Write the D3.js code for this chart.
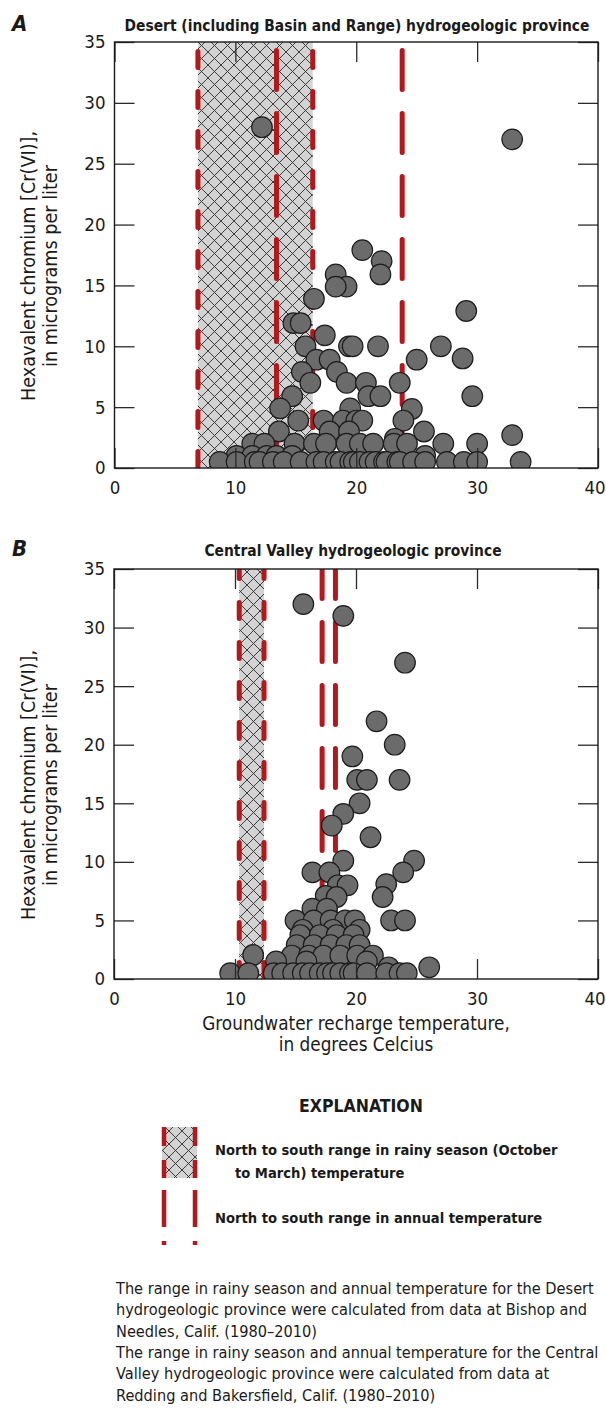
<!DOCTYPE html>
<html>
<head>
<meta charset="utf-8">
<script src="https://cdn.jsdelivr.net/npm/d3@7"></script>
<style>
body { margin: 0; background: #fff; }
svg { display: block; }
text { font-family: 'Liberation Sans Narrow', 'Arial Narrow', 'DejaVu Sans Condensed', 'Roboto Condensed', sans-serif; font-stretch: condensed; fill: #1a1a1a; }
</style>
</head>
<body>
<div id="chart"></div>
<script>
var xTicks = [0, 10, 20, 30, 40];
var yTicks = [0, 5, 10, 15, 20, 25, 30, 35];

// [recharge temperature (deg C), Cr(VI) (ug/L)]
var desertPoints = [
	[12.2, 28], [32.9, 27], [20.5, 17.9], [22.1, 17], [22.0, 15.9], [18.3, 15.9], [19.2, 14.9], [18.3, 14.9],
	[16.5, 13.9], [29.1, 12.9], [14.8, 11.9], [15.4, 11.9], [17.4, 10.9], [15.8, 10.0], [19.4, 10.0], [19.7, 10.0],
	[21.8, 10.0], [27.0, 10.0], [28.8, 9.0], [25.0, 8.9], [16.7, 8.9], [17.8, 8.9], [15.5, 7.9], [18.4, 7.9],
	[16.2, 7.0], [19.2, 7.0], [20.8, 7.0], [23.6, 7.0], [14.7, 5.9], [21.0, 5.9], [22.0, 5.9], [29.6, 5.9],
	[13.7, 4.9], [19.5, 4.9], [24.6, 4.85], [15.2, 3.9], [17.3, 3.9], [18.9, 3.9], [20.0, 3.9], [20.5, 3.9],
	[23.9, 3.9], [13.6, 3.0], [17.8, 3.0], [19.4, 3.0], [25.6, 3.0], [32.9, 2.7], [23.2, 2.4], [11.4, 2.0],
	[12.4, 2.0], [14.9, 2.0], [16.5, 2.0], [17.5, 2.0], [19.2, 2.0], [20.3, 2.0], [21.4, 2.0], [23.1, 2.0],
	[24.2, 2.0], [27.2, 2.0], [30.0, 2.0], [10.1, 1.0], [11.4, 1.0], [12.6, 1.0], [13.4, 1.0], [14.7, 1.0],
	[25.7, 1.0], [8.7, 0.5], [10.1, 0.5], [11.6, 0.5], [12.0, 0.5], [13.1, 0.5], [14.0, 0.5], [15.4, 0.5],
	[16.7, 0.5], [17.3, 0.5], [18.3, 0.5], [18.7, 0.5], [19.5, 0.5], [19.8, 0.5], [20.3, 0.5], [21.1, 0.5],
	[21.6, 0.5], [22.3, 0.5], [22.5, 0.5], [23.4, 0.5], [23.6, 0.5], [24.7, 0.5], [25.7, 0.5], [27.5, 0.5],
	[28.9, 0.5], [30.0, 0.5], [33.6, 0.5]
];

var valleyPoints = [
	[15.65, 32], [18.95, 31], [24.05, 27], [21.7, 22], [23.2, 20], [19.7, 19], [20.1, 17], [20.9, 17],
	[23.6, 17], [20.3, 15], [18.95, 14.1], [18.0, 13.1], [21.2, 12.1], [24.8, 10.1], [18.95, 10.1], [23.9, 9.1],
	[16.4, 9.1], [17.8, 9.1], [18.5, 8.0], [19.3, 8.0], [22.5, 8.1], [22.2, 7.0], [17.5, 7.1], [18.4, 7.0],
	[16.4, 6.0], [17.6, 6.0], [15.0, 5.0], [16.5, 5.0], [17.9, 5.0], [19.1, 5.0], [19.9, 5.0], [22.9, 5.0],
	[24.05, 5.0], [15.6, 4.2], [18.1, 4.2], [20.3, 4.2], [15.4, 3.75], [17.0, 3.75], [18.4, 3.75], [19.8, 3.75],
	[15.1, 2.9], [16.5, 2.9], [17.9, 2.9], [19.2, 2.9], [20.3, 2.9], [11.5, 2.05], [14.7, 2.0], [16.1, 2.0],
	[17.3, 2.0], [18.7, 2.0], [20.1, 2.0], [21.4, 2.0], [13.4, 1.5], [15.9, 1.5], [20.9, 1.5], [22.7, 1.0],
	[26.05, 1.0], [9.6, 0.5], [11.1, 0.5], [13.2, 0.5], [13.9, 0.5], [14.8, 0.5], [15.6, 0.5], [16.2, 0.5],
	[17.0, 0.5], [17.6, 0.5], [18.1, 0.5], [18.7, 0.5], [19.5, 0.5], [19.8, 0.5], [20.9, 0.5], [22.5, 0.5],
	[23.6, 0.5], [24.2, 0.5]
];

// north to south temperature ranges (deg C)
var desertRainy = [6.9, 16.4];
var desertAnnual = [13.4, 23.8];
var valleyRainy = [10.35, 12.4];
var valleyAnnual = [17.2, 18.3];

var yLabel = ["Hexavalent chromium [Cr(VI)],", "in micrograms per liter"];
var xLabel = ["Groundwater recharge temperature,", "in degrees Celcius"];
var legendItems = [
	["North to south range in rainy season (October", "to March) temperature"],
	["North to south range in annual temperature"]
];
var notes = [
	"The range in rainy season and annual temperature for the Desert",
	"hydrogeologic province were calculated from data at Bishop and",
	"Needles, Calif. (1980\u20132010)",
	"The range in rainy season and annual temperature for the Central",
	"Valley  hydrogeologic province were calculated from data at",
	"Redding and Bakersfield, Calif. (1980\u20132010)"
];

var W = 606, H = 1411;
var RED = "#b2181c";
var DOT_R = 10.3;

var svg = d3.select("#chart").append("svg")
	.attr("width", W)
	.attr("height", H);
var defs = svg.append("defs");

var hatch = defs.append("pattern")
	.attr("id", "hatch")
	.attr("patternUnits", "userSpaceOnUse")
	.attr("width", 13)
	.attr("height", 13);
hatch.append("rect").attr("width", 13).attr("height", 13).attr("fill", "#d3d3d3");
hatch.append("path")
	.attr("d", "M-1,-1L14,14M14,-1L-1,14")
	.attr("stroke", "#2b2b2b")
	.attr("stroke-width", 0.9)
	.attr("fill", "none");

function dashLine(sel, xPos, y1, y2, dash){
	// round caps add 2.5px at each end of a dash
	return sel.append("line")
		.attr("x1", xPos).attr("x2", xPos)
		.attr("y1", y1 + 2.5).attr("y2", y2)
		.attr("stroke", RED)
		.attr("stroke-width", 5)
		.attr("stroke-linecap", "round")
		.attr("stroke-dasharray", dash);
}

function drawPanel(cfg){
	var g = svg.append("g");
	var x = d3.scaleLinear().domain([0, 40]).range([cfg.left, cfg.right]);
	var y = d3.scaleLinear().domain([0, 35]).range([cfg.bottom, cfg.top]);

	defs.append("clipPath").attr("id", "clip-" + cfg.id)
		.append("rect")
		.attr("x", cfg.left).attr("y", cfg.top)
		.attr("width", cfg.right - cfg.left)
		.attr("height", cfg.bottom - cfg.top);

	var plot = g.append("g").attr("clip-path", `url(#clip-${cfg.id})`);

	plot.append("rect")
		.attr("x", x(cfg.rainy[0]))
		.attr("y", cfg.top)
		.attr("width", x(cfg.rainy[1]) - x(cfg.rainy[0]))
		.attr("height", cfg.bottom - cfg.top)
		.attr("fill", "url(#hatch)");

	cfg.rainy.forEach(v => dashLine(plot, x(v), cfg.rainyStart, cfg.bottom + 20, "16,24"));
	cfg.annual.forEach(v => dashLine(plot, x(v), cfg.annualStart, cfg.bottom + 20, "39,24"));

	plot.selectAll("circle")
		.data(cfg.points)
		.join("circle")
		.attr("cx", d => x(d[0]))
		.attr("cy", d => y(d[1]))
		.attr("r", DOT_R)
		.attr("fill", "#6b6b6b")
		.attr("stroke", "#1c1c1c")
		.attr("stroke-width", 1.2);

	// inward ticks on all four sides
	var tick = 20;
	g.append("g").attr("transform", `translate(${cfg.left},0)`)
		.call(d3.axisLeft(y).tickValues(yTicks).tickSize(-tick).tickPadding(9));
	g.append("g").attr("transform", `translate(${cfg.right},0)`)
		.call(d3.axisRight(y).tickValues(yTicks).tickSize(-tick).tickFormat(""));
	g.append("g").attr("transform", `translate(0,${cfg.top})`)
		.call(d3.axisTop(x).tickValues(xTicks).tickSize(-tick).tickFormat(""));
	var axB = g.append("g").attr("transform", `translate(0,${cfg.bottom})`)
		.call(d3.axisBottom(x).tickValues(xTicks).tickSize(-tick).tickPadding(13));
	g.selectAll(".domain").remove();
	g.selectAll(".tick line").attr("stroke", "#2a2a2a").attr("stroke-width", 1.3);
	g.selectAll(".tick text")
		.style("font-size", "18.5px")
		.attr("fill", "#1a1a1a");
	axB.selectAll(".tick text")
		.attr("dy", "0.71em")
		.attr("dx", d => d === 40 ? -2 : 0)
		.attr("text-anchor", d => d === 40 ? "start" : "middle")
		.attr("x", d => d === 40 ? -12 : 0);

	g.append("rect")
		.attr("x", cfg.left).attr("y", cfg.top)
		.attr("width", cfg.right - cfg.left)
		.attr("height", cfg.bottom - cfg.top)
		.attr("fill", "none")
		.attr("stroke", "#1a1a1a")
		.attr("stroke-width", 1.4);

	g.append("text")
		.attr("x", 12).attr("y", cfg.titleY)
		.style("font-size", "22px")
		.style("font-weight", "bold")
		.style("font-style", "italic")
		.text(cfg.letter);
	g.append("text")
		.attr("x", cfg.titleX).attr("y", cfg.titleY)
		.attr("text-anchor", "middle")
		.style("font-size", "15.4px")
		.style("font-weight", "bold")
		.text(cfg.title);

	var cy = (cfg.top + cfg.bottom) / 2 + 11;
	yLabel.forEach((s, i) => {
		g.append("text")
			.attr("transform", `translate(${35 + i * 22},${cy}) rotate(-90)`)
			.attr("text-anchor", "middle")
			.style("font-size", "19.6px")
			.text(s);
	});
	return x;
}

drawPanel({
	id: "a", letter: "A",
	title: "Desert (including Basin and Range) hydrogeologic province",
	titleX: 357, titleY: 31,
	left: 114.5, right: 598, top: 42, bottom: 468,
	points: desertPoints, rainy: desertRainy, annual: desertAnnual,
	rainyStart: 49, annualStart: 48
});

drawPanel({
	id: "b", letter: "B",
	title: "Central Valley hydrogeologic province",
	titleX: 353, titleY: 556,
	left: 114, right: 598, top: 569, bottom: 979,
	points: valleyPoints, rainy: valleyRainy, annual: valleyAnnual,
	rainyStart: 560, annualStart: 557
});

xLabel.forEach((s, i) => {
	svg.append("text")
		.attr("x", 356).attr("y", 1030 + i * 21)
		.attr("text-anchor", "middle")
		.style("font-size", "18.8px")
		.text(s);
});

// explanation
var leg = svg.append("g");
leg.append("text")
	.attr("x", 361).attr("y", 1112)
	.attr("text-anchor", "middle")
	.style("font-size", "17.5px")
	.style("font-weight", "bold")
	.text("EXPLANATION");

leg.append("rect")
	.attr("x", 162).attr("y", 1127)
	.attr("width", 35).attr("height", 51)
	.attr("fill", "url(#hatch)");
[164, 195].forEach(xx => {
	leg.append("line")
		.attr("x1", xx).attr("x2", xx).attr("y1", 1127).attr("y2", 1178)
		.attr("stroke", RED).attr("stroke-width", 4.5)
		.attr("stroke-dasharray", "19,14");
	leg.append("line")
		.attr("x1", xx).attr("x2", xx).attr("y1", 1190).attr("y2", 1245)
		.attr("stroke", RED).attr("stroke-width", 4.5)
		.attr("stroke-dasharray", "37,14");
});

legendItems.forEach((lines, i) => {
	lines.forEach((s, j) => {
		leg.append("text")
			.attr("x", j === 0 ? 215 : 235)
			.attr("y", (i === 0 ? 1155 : 1223) + j * 23)
			.style("font-size", "14.6px")
			.style("font-weight", "bold")
			.text(s);
	});
});

notes.forEach((s, i) => {
	svg.append("text")
		.attr("x", 116).attr("y", 1294 + i * 21.3)
		.style("font-size", "16.2px")
		.text(s);
});
</script>
</body>
</html>
